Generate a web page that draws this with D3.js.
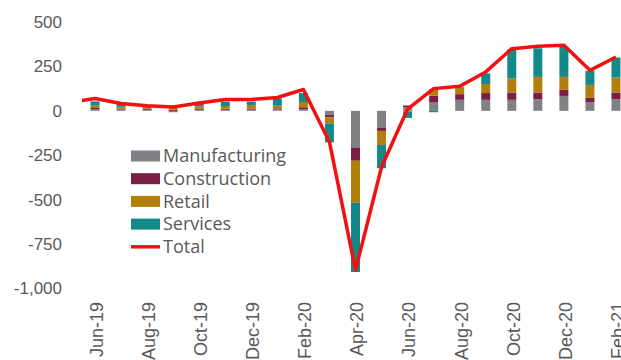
<meta charset="utf-8">
<style>
body { margin: 0; background: #fff; }
svg { font-family: "Open Sans", sans-serif; }
.tick text, .legend text { fill: #595959; font-size: 17px; }
.legend text, .xaxis .tick text { font-size: 18px; }
</style>
<svg width="621" height="360"></svg>
<script src="https://cdn.jsdelivr.net/npm/d3@7/dist/d3.min.js"></script>
<script>

var months = ['Jun-19', 'Jul-19', 'Aug-19', 'Sep-19', 'Oct-19', 'Nov-19', 'Dec-19', 'Jan-20', 'Feb-20',
  'Mar-20', 'Apr-20', 'May-20', 'Jun-20', 'Jul-20', 'Aug-20', 'Sep-20', 'Oct-20', 'Nov-20', 'Dec-20',
  'Jan-21', 'Feb-21'];

var seriesNames = ['Manufacturing', 'Construction', 'Retail', 'Services'];

var manufacturing = [10, 8, 6, -8, 6, 6, 6, 8, 10, -24, -206, -94, 20, 47, 62, 62, 62, 66, 84, 47, 66];
var construction = [6, 5, 5, 6, 6, 6, 7, 6, 10, -13, -75, -19, 10, 38, 32, 38, 41, 37, 34, 28, 37];
var retail = [13, 10, 12, 12, 14, 15, 20, 15, 30, -34, -237, -79, -4, 38, 37, 51, 79, 88, 73, 71, 84];
var services = [24, 17, 5, 6, 14, 25, 19, 40, 50, -107, -389, -131, -36, -8, 5, 60, 165, 161, 169, 79, 113];

// total line (May-19 point sits just left of the plot and gets clipped)
var totalMonths = ['May-19'].concat(months);
var total = [48, 69, 41, 28, 22, 44, 64, 64, 75, 120, -175, -897, -316, 10, 125, 138, 219, 350, 363, 369, 228, 303];

var yTicks = [500, 250, 0, -250, -500, -750, -1000];

var colors = ['#7f8184', '#7b1e45', '#b27f0c', '#14898a'];

var svg = d3.select('svg');

var plotLeft = 82, plotRight = 629, plotTop = 22, plotBottom = 288.5;

var x = d3.scaleBand()
  .domain(months)
  .range([plotLeft, plotRight]);

var step = x.step();
var cx = function (m) {
  var i = totalMonths.indexOf(m) - 1;
  return plotLeft + step * (i + 0.5);
};

var y = d3.scaleLinear()
  .domain([-1000, 500])
  .range([plotBottom, plotTop]);

var locale = d3.formatLocale({ decimal: '.', thousands: ',', grouping: [3], currency: ['', ''], minus: '-' });

// y axis labels only
var yAxis = svg.append('g')
  .attr('transform', 'translate(66,0)')
  .call(d3.axisLeft(y).tickValues(yTicks).tickSize(0).tickPadding(4).tickFormat(locale.format(',')));
yAxis.select('.domain').remove();

// x axis labels, every other month
var xAxis = svg.append('g')
  .attr('class', 'xaxis')
  .attr('transform', 'translate(1.5,302)')
  .call(d3.axisBottom(x).tickValues(months.filter(function (d, i) { return i % 2 === 0; })).tickSize(0));
xAxis.select('.domain').remove();
xAxis.selectAll('text')
  .attr('transform', 'rotate(-90)')
  .attr('x', 0)
  .attr('y', 0)
  .attr('dy', '0.35em')
  .style('text-anchor', 'end');

// stacked bars, positives and negatives stacked separately
var rows = months.map(function (m, i) {
  return { month: m, Manufacturing: manufacturing[i], Construction: construction[i], Retail: retail[i], Services: services[i] };
});

var stack = d3.stack()
  .keys(seriesNames)
  .offset(d3.stackOffsetDiverging);

var barW = 9;

svg.append('g').selectAll('g')
  .data(stack(rows))
  .enter().append('g')
  .attr('fill', function (d, i) { return colors[i]; })
  .selectAll('rect')
  .data(function (d) { return d; })
  .enter().append('rect')
  .attr('x', function (d) { return x(d.data.month) + x.bandwidth() / 2 - barW / 2; })
  .attr('width', barW)
  .attr('y', function (d) { return y(Math.max(d[0], d[1])); })
  .attr('height', function (d) { return Math.abs(y(d[0]) - y(d[1])); });

// total line
svg.append('clipPath').attr('id', 'plot')
  .append('rect')
  .attr('x', plotLeft).attr('y', 0)
  .attr('width', plotRight - plotLeft).attr('height', 360);

var line = d3.line()
  .x(function (d, i) { return cx(totalMonths[i]); })
  .y(function (d) { return y(d); });

svg.append('path')
  .datum(total)
  .attr('clip-path', 'url(#plot)')
  .attr('d', line)
  .attr('fill', 'none')
  .attr('stroke', '#f41010')
  .attr('stroke-width', 3.5)
  .attr('stroke-linejoin', 'round');

// legend
var legendItems = seriesNames.concat(['Total']);
var legend = svg.append('g')
  .attr('class', 'legend')
  .attr('transform', 'translate(131,156)');

var item = legend.selectAll('g')
  .data(legendItems)
  .enter().append('g')
  .attr('transform', function (d, i) { return 'translate(0,' + i * 22.7 + ')'; });

item.filter(function (d) { return d !== 'Total'; })
  .append('rect')
  .attr('x', 0).attr('y', -5.5)
  .attr('width', 29).attr('height', 11)
  .attr('fill', function (d, i) { return colors[i]; });

item.filter(function (d) { return d === 'Total'; })
  .append('line')
  .attr('x1', 0).attr('x2', 29)
  .attr('stroke', '#f41010')
  .attr('stroke-width', 3.5);

item.append('text')
  .attr('x', 32)
  .attr('dy', '0.35em')
  .text(function (d) { return d; });

</script>
